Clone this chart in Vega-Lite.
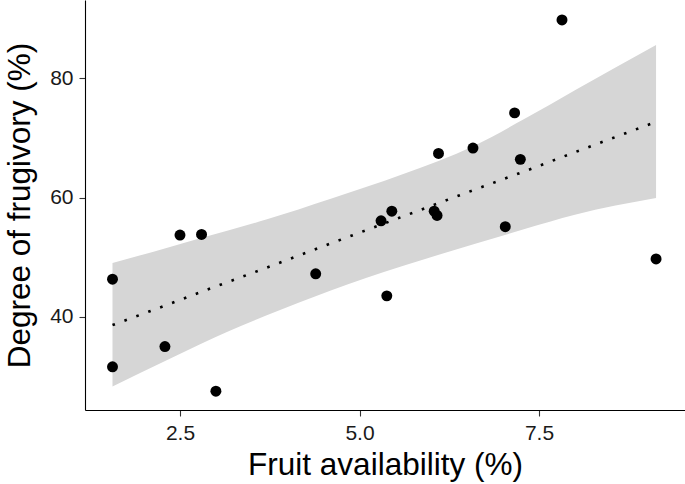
{
  "$schema": "https://vega.github.io/schema/vega-lite/v6.json",
  "width": 600,
  "height": 410,
  "autosize": {"type": "none"},
  "padding": {"left": 85, "top": 0, "right": 0, "bottom": 74},
  "background": "white",
  "config": {
    "view": {"stroke": null},
    "font": "Liberation Sans",
    "axis": {
      "grid": false,
      "domainColor": "#000000",
      "domainWidth": 1.1,
      "tickColor": "#333333",
      "tickWidth": 1.1,
      "tickSize": 6,
      "labelFont": "Liberation Sans",
      "labelFontSize": 21,
      "labelColor": "#1a1a1a",
      "labelPadding": 6,
      "titleFont": "Liberation Sans",
      "titleFontSize": 31.5,
      "titleFontWeight": "normal",
      "titleColor": "#000000"
    }
  },
  "datasets": {
    "points": [
      {"fruit": 1.56, "frug": 46.3},
      {"fruit": 1.56, "frug": 31.6},
      {"fruit": 2.29, "frug": 35.0},
      {"fruit": 2.50, "frug": 53.7},
      {"fruit": 2.80, "frug": 53.8},
      {"fruit": 3.00, "frug": 27.5},
      {"fruit": 4.39, "frug": 47.2},
      {"fruit": 5.30, "frug": 56.1},
      {"fruit": 5.38, "frug": 43.5},
      {"fruit": 5.45, "frug": 57.7},
      {"fruit": 6.04, "frug": 57.7},
      {"fruit": 6.08, "frug": 57.0},
      {"fruit": 6.10, "frug": 67.4},
      {"fruit": 6.58, "frug": 68.3},
      {"fruit": 7.03, "frug": 55.1},
      {"fruit": 7.16, "frug": 74.2},
      {"fruit": 7.24, "frug": 66.4},
      {"fruit": 7.82, "frug": 89.8},
      {"fruit": 9.13, "frug": 49.7}
    ],
    "band": [
      {"fruit": 1.56, "lo": 28.3, "hi": 49.0, "fit": 38.6},
      {"fruit": 2.3, "lo": 32.6, "hi": 51.5, "fit": 41.9},
      {"fruit": 2.78, "lo": 35.4, "hi": 53.15, "fit": 44.1},
      {"fruit": 3.7, "lo": 40.2, "hi": 56.3, "fit": 48.2},
      {"fruit": 4.6, "lo": 44.4, "hi": 59.8, "fit": 52.3},
      {"fruit": 5.6, "lo": 48.5, "hi": 63.9, "fit": 56.8},
      {"fruit": 6.6, "lo": 52.2, "hi": 68.7, "fit": 61.3},
      {"fruit": 7.3, "lo": 54.7, "hi": 73.2, "fit": 64.4},
      {"fruit": 8.0, "lo": 57.1, "hi": 78.0, "fit": 67.6},
      {"fruit": 9.13, "lo": 59.9, "hi": 85.6, "fit": 72.7}
    ]
  },
  "layer": [
    {
      "data": {"name": "band"},
      "mark": {"type": "area", "color": "#d6d6d6", "opacity": 1, "interpolate": "monotone"},
      "encoding": {
        "x": {
          "field": "fruit", "type": "quantitative",
          "scale": {"domain": [1.177, 9.533], "nice": false, "zero": false},
          "axis": {"values": [2.5, 5, 7.5], "format": ".1f", "title": "Fruit availability (%)", "titlePadding": 6}
        },
        "y": {
          "field": "lo", "type": "quantitative",
          "scale": {"domain": [24.35, 93.14], "nice": false, "zero": false},
          "axis": {"values": [40, 60, 80], "title": "Degree of frugivory (%)", "titlePadding": 13}
        },
        "y2": {"field": "hi"}
      }
    },
    {
      "data": {"name": "band"},
      "mark": {"type": "line", "color": "#000000", "strokeWidth": 2.6, "strokeDash": [2.6, 10.1], "strokeCap": "butt"},
      "encoding": {
        "x": {"field": "fruit", "type": "quantitative"},
        "y": {"field": "fit", "type": "quantitative"}
      }
    },
    {
      "data": {"name": "points"},
      "mark": {"type": "point", "filled": true, "shape": "circle", "color": "#000000", "opacity": 1, "size": 120},
      "encoding": {
        "x": {"field": "fruit", "type": "quantitative"},
        "y": {"field": "frug", "type": "quantitative"}
      }
    }
  ]
}
